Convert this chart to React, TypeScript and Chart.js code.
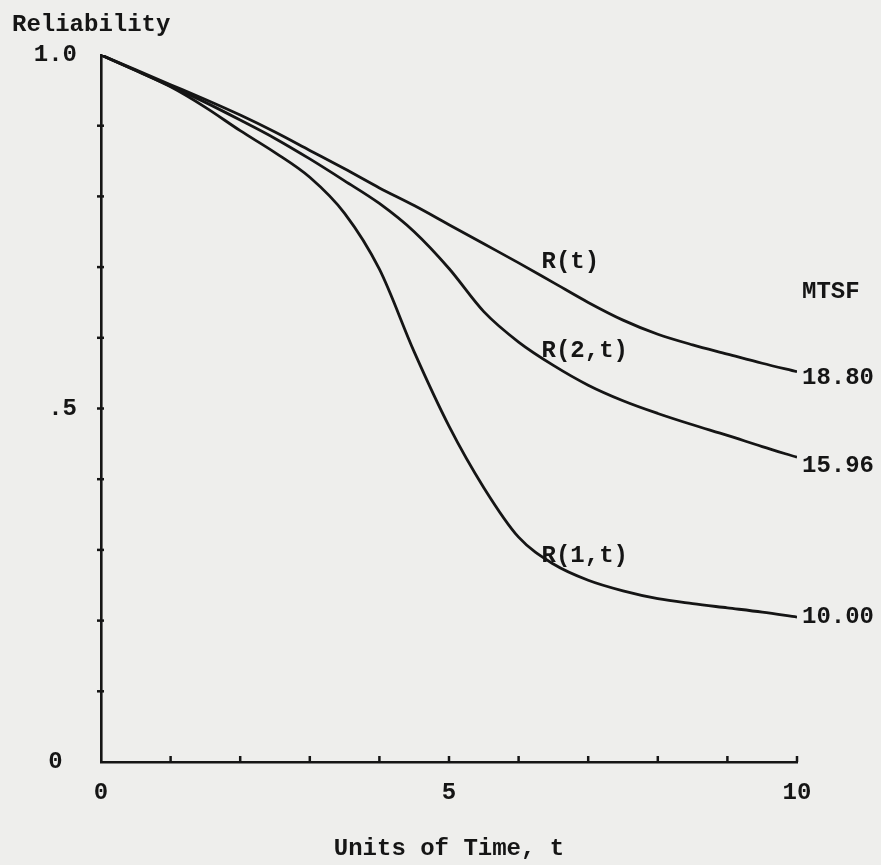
import React, { useEffect, useRef } from "react";
import { Chart, registerables } from "chart.js";

Chart.register(...registerables);

// ---- data ----
const times = [0, 0.5, 1, 1.5, 2, 2.5, 3, 3.5, 4, 4.5, 5, 5.5, 6, 6.5, 7, 7.5, 8, 8.5, 9, 9.5, 10];
const rT = [1.0, 0.979, 0.958, 0.937, 0.915, 0.891, 0.865, 0.839, 0.812, 0.787, 0.760, 0.733, 0.706, 0.678, 0.650, 0.625, 0.605, 0.590, 0.577, 0.564, 0.552];
const r2T = [1.0, 0.978, 0.956, 0.933, 0.908, 0.882, 0.853, 0.822, 0.790, 0.750, 0.698, 0.637, 0.594, 0.561, 0.533, 0.511, 0.493, 0.477, 0.462, 0.446, 0.431];
const r1T = [1.0, 0.978, 0.955, 0.926, 0.893, 0.862, 0.827, 0.776, 0.697, 0.580, 0.475, 0.388, 0.318, 0.280, 0.257, 0.242, 0.231, 0.224, 0.218, 0.212, 0.205];

const seriesNames = ["R(t)", "R(2,t)", "R(1,t)"];
const mtsfValues = ["18.80", "15.96", "10.00"];
const curveLabelT = 6.33;
const curveLabelY = [0.707, 0.582, 0.291];
const mtsfLabelY = [0.543, 0.419, 0.205];
const mtsfHeaderY = 0.665;

const xLabelValues = [0, 5, 10];
const xLabelTexts = ["0", "5", "10"];
const yLabelValues = [0, 0.5, 1];
const yLabelTexts = ["0 ", ".5", "1.0"];

const INK = "#151515";
const PAPER = "#eeeeec";
const FONT_FAMILY = "'Liberation Mono', 'DejaVu Sans Mono', monospace";
const FONT_SIZE = 24;

export default function App() {
  const canvasRef = useRef<HTMLCanvasElement | null>(null);

  useEffect(() => {
    const canvas = canvasRef.current;
    if (!canvas) return;

    const toPoints = (vals: number[]) => times.map((t, i) => ({ x: t, y: vals[i] }));
    const allSeries = [rT, r2T, r1T];

    const annotate = {
      id: "annotate",
      beforeDraw(chart: any) {
        const ctx = chart.ctx;
        ctx.save();
        ctx.fillStyle = PAPER;
        ctx.fillRect(0, 0, chart.width, chart.height);
        ctx.restore();
      },
      afterDraw(chart: any) {
        const ctx = chart.ctx;
        const xs = chart.scales.x;
        const ys = chart.scales.y;
        const area = chart.chartArea;
        ctx.save();
        ctx.strokeStyle = INK;
        ctx.lineWidth = 2.5;
        // y tick marks crossing the axis
        ys.ticks.forEach((tk: any) => {
          if (Math.abs(tk.value) < 1e-9 || Math.abs(tk.value - 1) < 1e-9) return;
          const py = ys.getPixelForValue(tk.value);
          ctx.beginPath();
          ctx.moveTo(area.left - 4, py);
          ctx.lineTo(area.left + 3, py);
          ctx.stroke();
        });
        // x tick marks pointing upward
        xs.ticks.forEach((tk: any) => {
          if (Math.abs(tk.value) < 1e-9) return;
          const px = xs.getPixelForValue(tk.value);
          ctx.beginPath();
          ctx.moveTo(px, area.bottom);
          ctx.lineTo(px, area.bottom - 6);
          ctx.stroke();
        });

        ctx.fillStyle = INK;
        ctx.font = `bold ${FONT_SIZE}px ${FONT_FAMILY}`;
        ctx.textBaseline = "middle";
        ctx.textAlign = "left";
        ctx.fillText("Reliability", 12, 25);

        const lx = xs.getPixelForValue(curveLabelT);
        seriesNames.forEach((name, i) => {
          ctx.fillText(name, lx, ys.getPixelForValue(curveLabelY[i]));
        });
        const mx = xs.getPixelForValue(10) + 5;
        ctx.fillText("MTSF", mx, ys.getPixelForValue(mtsfHeaderY));
        mtsfValues.forEach((v, i) => {
          ctx.fillText(v, mx, ys.getPixelForValue(mtsfLabelY[i]));
        });
        ctx.restore();
      },
    };

    const chart = new Chart(canvas, {
      type: "line",
      data: {
        datasets: allSeries.map((vals, i) => ({
          label: seriesNames[i],
          data: toPoints(vals),
          borderColor: INK,
          borderWidth: 2.8,
          pointRadius: 0,
          fill: false,
          cubicInterpolationMode: "monotone" as const,
        })),
      },
      options: {
        responsive: false,
        animation: false,
        devicePixelRatio: 1,
        layout: { padding: { left: 0, right: 84, top: 55, bottom: 0 } },
        plugins: {
          legend: { display: false },
          tooltip: { enabled: false },
          title: { display: false },
        },
        scales: {
          x: {
            type: "linear",
            min: 0,
            max: 10,
            grid: { display: false },
            border: { display: true, color: INK, width: 2.6 },
            ticks: {
              stepSize: 1,
              autoSkip: false,
              maxRotation: 0,
              padding: 9,
              color: INK,
              font: { family: FONT_FAMILY, size: FONT_SIZE, weight: "bold" },
              callback: (v: any) => {
                const idx = xLabelValues.findIndex((x) => Math.abs(x - Number(v)) < 1e-9);
                return idx >= 0 ? xLabelTexts[idx] : "";
              },
            },
            title: {
              display: true,
              text: "Units of Time, t",
              color: INK,
              font: { family: FONT_FAMILY, size: FONT_SIZE, weight: "bold" },
              padding: { top: 0, bottom: 2 },
            },
            afterFit: (scale: any) => {
              scale.height = 103;
            },
          },
          y: {
            type: "linear",
            min: 0,
            max: 1,
            grid: { display: false },
            border: { display: true, color: INK, width: 2.6 },
            ticks: {
              stepSize: 0.1,
              autoSkip: false,
              padding: 16,
              color: INK,
              font: { family: FONT_FAMILY, size: FONT_SIZE, weight: "bold" },
              callback: (v: any) => {
                const idx = yLabelValues.findIndex((y) => Math.abs(y - Number(v)) < 1e-9);
                return idx >= 0 ? yLabelTexts[idx] : "";
              },
            },
            afterFit: (scale: any) => {
              scale.width = 101;
            },
          },
        },
      },
      plugins: [annotate],
    });

    return () => chart.destroy();
  }, []);

  return (
    <div style={{ position: "absolute", left: 0, top: 0, width: 881, height: 865, background: PAPER }}>
      <canvas ref={canvasRef} width={881} height={865} style={{ display: "block", width: 881, height: 865 }} />
    </div>
  );
}
